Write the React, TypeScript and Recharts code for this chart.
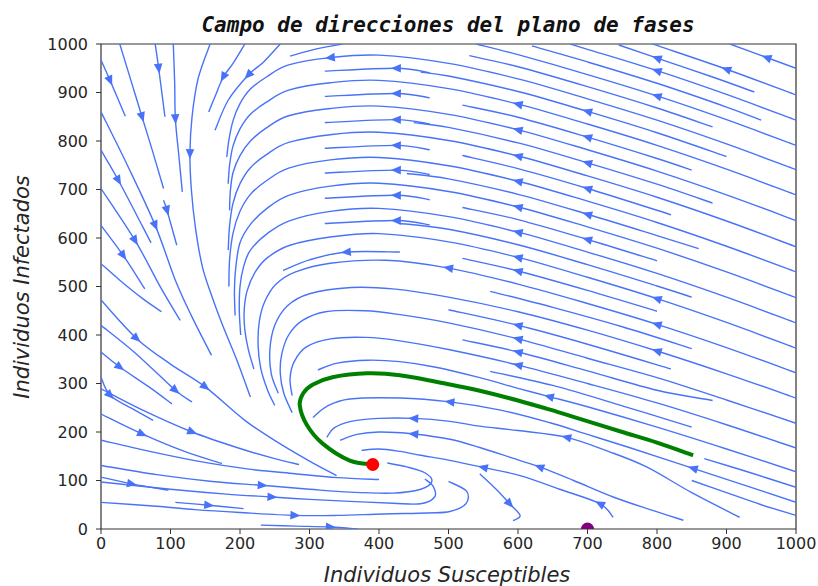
import { ComposedChart, Line, Scatter, XAxis, YAxis, ReferenceArea } from 'recharts'

type Pt = [number, number]

const xTicks = [0, 100, 200, 300, 400, 500, 600, 700, 800, 900, 1000]
const yTicks = [0, 100, 200, 300, 400, 500, 600, 700, 800, 900, 1000]

// every streamline is listed in the direction of the flow
const topLeftLines: Pt[][] = [
  [[0, 967], [13, 925], [35, 851]],
  [[27, 1000], [43, 925], [59, 850], [75, 775], [90, 702]],
  [[78, 1000], [83, 950], [92, 850]],
  [[104, 1000], [106, 920], [107, 846], [112, 770], [117, 695]],
  [[157, 1000], [140, 930], [131, 850], [128, 774], [130, 700], [136, 620], [146, 540], [160, 478], [175, 420], [195, 350], [215, 272]],
  [[207, 1000], [190, 960], [176, 932], [165, 895], [155, 860]],
  [[258, 1000], [234, 963], [212, 936], [183, 884], [164, 822]],
  [[0, 860], [39, 747], [78, 626], [107, 513], [130, 440], [159, 358]],
  [[0, 781], [25, 719], [59, 626], [72, 590]],
  [[0, 702], [49, 595], [87, 495], [114, 430]],
  [[0, 626], [32, 564], [63, 495]],
  [[0, 547], [27, 513], [60, 475], [87, 448]],
  [[90, 678], [95, 657], [109, 585]],
  [[348, 1000], [310, 990], [272, 975]],
]

const fanLines: Pt[][] = [
  [[0, 472], [51, 393], [100, 340], [150, 293], [207, 224], [255, 178], [300, 140], [339, 110]],
  [[0, 420], [50, 362], [107, 286], [131, 262]],
  [[0, 365], [27, 334], [70, 292], [102, 258]],
  [[0, 313], [13, 276], [45, 248], [75, 224]],
  [[0, 289], [60, 245], [131, 200], [200, 166], [250, 145], [285, 133]],
  [[0, 237], [59, 196], [120, 160], [174, 135]],
  [[0, 183], [70, 160], [135, 141], [210, 124], [279, 114], [340, 106], [400, 102]],
  [[0, 131], [80, 112], [160, 98], [232, 90], [300, 82], [358, 76], [420, 74], [460, 82], [476, 98], [466, 116], [440, 128], [412, 136]],
  [[0, 107], [44, 93], [97, 80]],
  [[0, 97], [100, 82], [180, 72], [246, 66], [300, 61], [358, 57], [420, 53], [460, 52], [480, 66], [478, 88], [466, 103]],
  [[107, 55], [155, 49], [205, 42]],
  [[0, 55], [80, 47], [135, 40], [200, 34], [279, 28], [340, 28], [406, 31], [470, 33], [502, 36], [525, 52], [526, 78], [500, 98]],
  [[230, 8], [280, 6], [330, 4], [370, 0]],
]

const archLines: Pt[][] = [
  [[1000, 741], [900, 794], [800, 843], [700, 887], [600, 928], [500, 960], [400, 977], [330, 972], [270, 957], [238, 932], [215, 907], [200, 877], [190, 842], [184, 802], [181, 767]],
  [[1000, 689], [900, 742], [800, 791], [700, 835], [600, 876], [500, 908], [400, 925], [330, 920], [270, 905], [238, 880], [215, 855], [200, 825], [190, 790], [185, 750], [183, 712]],
  [[1000, 636], [900, 689], [800, 738], [700, 782], [600, 823], [500, 855], [400, 872], [330, 867], [270, 852], [238, 827], [215, 800], [200, 770], [190, 735], [186, 695], [185, 657]],
  [[1000, 582], [900, 635], [800, 684], [700, 728], [600, 769], [500, 801], [400, 818], [330, 813], [270, 797], [238, 772], [215, 745], [200, 712], [190, 672], [185, 625], [183, 575]],
  [[1000, 530], [900, 583], [800, 632], [700, 676], [600, 717], [500, 749], [400, 766], [330, 761], [270, 744], [238, 718], [215, 690], [200, 655], [190, 610], [185, 555], [184, 500]],
  [[1000, 477], [900, 530], [800, 579], [700, 623], [600, 664], [500, 696], [400, 713], [330, 707], [270, 688], [238, 660], [215, 628], [200, 590], [194, 540], [192, 490], [193, 440]],
  [[1000, 425], [900, 478], [800, 527], [700, 571], [600, 612], [500, 644], [400, 661], [330, 655], [272, 636], [240, 610], [215, 575], [205, 540], [200, 500], [199, 450], [201, 400]],
  [[1000, 373], [900, 426], [800, 475], [700, 519], [600, 560], [500, 592], [400, 609], [330, 602], [272, 585], [240, 560], [222, 530], [210, 490], [206, 450], [207, 410], [212, 370], [220, 330]],
  [[1000, 322], [900, 374], [800, 422], [700, 465], [600, 505], [500, 538], [410, 554], [330, 548], [280, 530], [252, 505], [236, 470], [228, 430], [226, 380], [230, 330], [240, 285], [250, 255]],
  [[1000, 270], [900, 320], [800, 367], [700, 410], [600, 448], [500, 478], [420, 495], [360, 498], [300, 485], [268, 460], [250, 420], [243, 370], [245, 320], [255, 280]],
  [[1000, 218], [900, 266], [800, 312], [700, 352], [600, 392], [500, 425], [430, 442], [380, 450], [323, 448], [290, 430], [270, 400], [260, 360], [258, 320], [263, 280], [275, 240]],
  [[1000, 167], [900, 215], [800, 260], [700, 300], [600, 338], [500, 370], [430, 388], [380, 395], [330, 392], [295, 375], [278, 345], [272, 310], [275, 275]],
  [[1000, 118], [900, 165], [800, 210], [700, 252], [645, 273], [600, 290], [545, 312], [480, 334], [430, 345], [383, 348], [340, 342], [312, 328]],
]

const topExitLines: Pt[][] = [
  [[1000, 950], [958, 972], [905, 1000]],
  [[1000, 895], [900, 948], [800, 997], [795, 1000]],
  [[1000, 843], [900, 896], [800, 945], [700, 989], [675, 1000]],
  [[1000, 791], [900, 844], [800, 893], [700, 937], [600, 978], [540, 1000]],
]

const midLines: Pt[][] = [
  [[940, 901], [880, 932], [800, 971], [745, 998]],
  [[950, 843], [900, 870], [800, 919], [700, 963], [620, 996]],
  [[880, 829], [800, 868], [700, 912], [600, 953], [530, 976]],
  [[900, 768], [800, 817], [700, 861], [600, 902], [500, 934], [460, 942]],
  [[850, 740], [800, 764], [700, 808], [600, 849], [520, 874]],
  [[880, 672], [800, 711], [700, 755], [600, 796], [500, 828], [450, 838]],
  [[820, 648], [700, 702], [600, 743], [520, 770]],
  [[860, 578], [800, 605], [700, 649], [600, 690], [500, 722], [440, 733]],
  [[800, 553], [700, 597], [600, 638], [520, 663]],
  [[850, 478], [800, 501], [700, 545], [600, 586], [500, 618], [430, 630]],
  [[800, 449], [700, 492], [600, 532], [520, 558]],
  [[850, 372], [750, 417], [650, 457], [560, 490]],
  [[820, 330], [700, 381], [600, 420], [500, 452]],
  [[880, 265], [800, 286], [700, 326], [600, 365], [520, 390]],
  [[850, 210], [750, 254], [650, 296], [560, 325]],
]

const apexLines: Pt[][] = [
  [[473, 941], [425, 950], [322, 944]],
  [[473, 889], [425, 898], [322, 892]],
  [[473, 835], [425, 844], [322, 838]],
  [[473, 782], [425, 791], [322, 785]],
  [[473, 731], [425, 740], [322, 734]],
  [[473, 679], [425, 688], [322, 682]],
  [[473, 627], [425, 636], [322, 630]],
  [[430, 571], [353, 571], [300, 555], [262, 533]],
]

const innerLines: Pt[][] = [
  [[1000, 55], [920, 93], [852, 125], [760, 168], [700, 195], [646, 219], [575, 245], [502, 262], [430, 270], [358, 268], [325, 253], [305, 230]],
  [[919, 24], [850, 75], [785, 128], [730, 160], [670, 189], [600, 203], [545, 212], [502, 222], [450, 228], [400, 228], [360, 222], [335, 208], [325, 189]],
  [[838, 18], [790, 40], [737, 66], [680, 100], [631, 128], [590, 147], [545, 168], [502, 185], [450, 196], [400, 200], [368, 195], [344, 183]],
  [[737, 24], [718, 52], [660, 82], [603, 110], [550, 127], [500, 142], [460, 152], [430, 160], [400, 165], [375, 162]],
  [[545, 114], [570, 80], [588, 52], [603, 28], [593, 17]],
  [[1000, 86], [930, 118], [868, 145]],
  [[1000, 28], [950, 50], [900, 75], [850, 100]],
]

const trajectory: Pt[] = [
  [852, 152], [800, 178], [750, 200], [689, 227], [646, 246], [600, 265], [545, 285], [502, 298], [430, 317],
  [383, 321], [333, 313], [305, 298], [291, 280], [286, 255], [296, 215], [319, 176], [358, 141], [391, 133],
]

// arrow heads: position and local flow direction
const arrowHeads: [number, number, number, number][] = [
  [13, 925, 35, -116], [59, 850, 32, -150], [83, 950, 14, -150], [107, 846, 6, -150], [128, 774, -1, -150],
  [176, 932, -25, -65], [212, 936, -51, -79], [25, 719, 59, -155], [78, 626, 68, -234], [49, 595, 87, -207],
  [32, 564, 63, -131], [95, 657, 19, -93],
  [51, 393, 100, -132], [150, 293, 107, -116], [107, 286, 81, -100], [27, 334, 70, -73], [13, 276, 45, -65],
  [131, 200, 140, -79], [59, 196, 120, -77], [232, 90, 140, -16], [44, 93, 97, -27], [246, 66, 120, -11],
  [155, 49, 98, -13], [279, 28, 140, -12], [330, 4, 90, -6], [588, 52, 33, -52],
  [670, 189, -130, 43], [450, 228, -102, 6], [631, 128, -90, 47], [450, 196, -102, 15], [718, 52, -77, 58],
  [550, 127, -103, 32], [502, 262, -145, 25], [852, 125, -160, 68],
  [645, 273, -100, 38], [600, 338, -200, 70], [600, 365, -200, 75], [600, 392, -200, 73], [600, 420, -200, 71],
  [800, 367, -200, 90], [800, 422, -200, 91], [800, 475, -200, 93], [600, 560, -200, 73], [600, 532, -200, 74],
  [500, 538, -190, 48], [600, 612, -200, 73], [600, 664, -200, 73], [600, 717, -200, 73], [600, 769, -200, 73],
  [600, 823, -200, 73], [600, 876, -200, 73], [700, 597, -200, 85], [700, 649, -200, 85], [700, 702, -200, 95],
  [700, 755, -200, 85], [700, 808, -200, 85], [700, 861, -200, 85], [800, 893, -200, 93], [800, 945, -200, 93],
  [900, 948, -200, 102], [958, 972, -95, 50], [800, 971, -135, 69],
  [425, 950, -150, 3], [425, 898, -150, 3], [425, 844, -150, 3], [425, 791, -150, 3], [425, 740, -150, 3],
  [425, 688, -150, 3], [425, 636, -150, 3], [330, 972, -130, -20], [353, 571, -130, -16],
]

const endemicPoint: Pt = [391, 133]
const diseaseFreePoint: Pt = [700, 0]

const BLUE = '#4873f8'
const SX = 695 / 1000
const SY = 485 / 1000

const toRows = (pts: Pt[]) => pts.map(([x, y]) => ({ x, y }))

// Catmull-Rom spline through every point, like the smooth traced streamlines
function catmullRom(context: any) {
  let pts: number[][] = []
  return {
    areaStart() {},
    areaEnd() {},
    lineStart() {
      pts = []
    },
    point(x: number, y: number) {
      pts.push([+x, +y])
    },
    lineEnd() {
      const n = pts.length
      if (!n) return
      context.moveTo(pts[0][0], pts[0][1])
      if (n === 2) {
        context.lineTo(pts[1][0], pts[1][1])
        return
      }
      for (let i = 0; i < n - 1; i++) {
        const p0 = pts[Math.max(i - 1, 0)]
        const p1 = pts[i]
        const p2 = pts[i + 1]
        const p3 = pts[Math.min(i + 2, n - 1)]
        context.bezierCurveTo(
          p1[0] + (p2[0] - p0[0]) / 6,
          p1[1] + (p2[1] - p0[1]) / 6,
          p2[0] - (p3[0] - p1[0]) / 6,
          p2[1] - (p3[1] - p1[1]) / 6,
          p2[0],
          p2[1],
        )
      }
    },
  }
}

const renderArrow = (props: any) => {
  const { cx, cy, payload } = props
  if (cx == null || cy == null || !payload) return <g />
  const ax = payload.dx * SX
  const ay = -payload.dy * SY
  const len = Math.hypot(ax, ay) || 1
  const ux = ax / len
  const uy = ay / len
  const bx = cx - ux * 4.5
  const by = cy - uy * 4.5
  const pts = [
    [cx + ux * 5.5, cy + uy * 5.5],
    [bx - uy * 4.3, by + ux * 4.3],
    [bx + uy * 4.3, by - ux * 4.3],
  ]
  return <polygon points={pts.map((p) => p.join(',')).join(' ')} fill={BLUE} />
}

const dot = (color: string) => (props: any) => {
  const { cx, cy } = props
  if (cx == null || cy == null) return <g />
  return <circle cx={cx} cy={cy} r={6.5} fill={color} />
}

const streamlines = [...topLeftLines, ...fanLines, ...archLines, ...topExitLines, ...midLines, ...apexLines, ...innerLines]

const tickStyle = { fontSize: 16, fill: '#262626', fontFamily: 'DejaVu Sans' }

export default function App() {
  const arrowRows = arrowHeads.map(([x, y, dx, dy]) => ({ x, y, dx, dy }))
  return (
    <div style={{ position: 'absolute', left: 0, top: 0, width: 818, height: 586, background: '#fff' }}>
      <ComposedChart width={818} height={586} margin={{ top: 44, right: 22, bottom: 27, left: 41 }}>
        <XAxis
          type="number"
          dataKey="x"
          domain={[0, 1000]}
          ticks={xTicks}
          interval={0}
          allowDataOverflow
          axisLine={false}
          tickLine={{ stroke: '#333' }}
          tickSize={5}
          tickMargin={4}
          tick={tickStyle}
          height={30}
        />
        <YAxis
          type="number"
          dataKey="y"
          domain={[0, 1000]}
          ticks={yTicks}
          interval={0}
          allowDataOverflow
          axisLine={false}
          tickLine={{ stroke: '#333' }}
          tickSize={5}
          tickMargin={8}
          tick={tickStyle}
          width={60}
        />
        {streamlines.map((line, i) => (
          <Line
            key={`s-${i}`}
            data={toRows(line)}
            dataKey="y"
            type={catmullRom as any}
            stroke={BLUE}
            strokeWidth={1.4}
            dot={false}
            activeDot={false}
            isAnimationActive={false}
          />
        ))}
        <Scatter data={arrowRows} dataKey="y" shape={renderArrow} isAnimationActive={false} />
        <Line
          data={toRows(trajectory)}
          dataKey="y"
          type={catmullRom as any}
          stroke="#008000"
          strokeWidth={4}
          dot={false}
          activeDot={false}
          isAnimationActive={false}
        />
        <Scatter data={toRows([endemicPoint])} dataKey="y" shape={dot('#ff0000')} isAnimationActive={false} />
        <Scatter data={toRows([diseaseFreePoint])} dataKey="y" shape={dot('#800080')} isAnimationActive={false} />
        <ReferenceArea x1={0} x2={1000} y1={0} y2={1000} fill="none" stroke="#333" strokeWidth={1.2} ifOverflow="visible" />
      </ComposedChart>
      <div
        style={{
          position: 'absolute', left: 448, top: 25, transform: 'translate(-50%, -50%)', whiteSpace: 'nowrap',
          fontFamily: 'DejaVu Sans Mono', fontWeight: 'bold', fontStyle: 'italic', fontSize: 21, color: '#111',
        }}
      >
        Campo de direcciones del plano de fases
      </div>
      <div
        style={{
          position: 'absolute', left: 447, top: 575, transform: 'translate(-50%, -50%)', whiteSpace: 'nowrap',
          fontFamily: 'DejaVu Sans', fontStyle: 'italic', fontSize: 21, color: '#262626',
        }}
      >
        Individuos Susceptibles
      </div>
      <div
        style={{
          position: 'absolute', left: 22, top: 287, transform: 'translate(-50%, -50%) rotate(-90deg)', whiteSpace: 'nowrap',
          fontFamily: 'DejaVu Sans', fontStyle: 'italic', fontSize: 21, color: '#262626',
        }}
      >
        Individuos Infectados
      </div>
    </div>
  )
}
